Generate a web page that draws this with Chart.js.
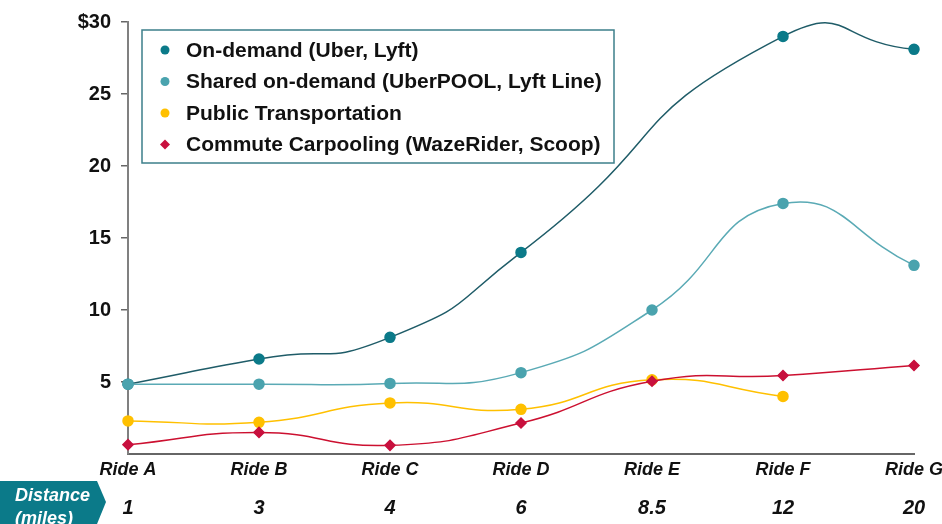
<!DOCTYPE html>
<html>
<head>
<meta charset="utf-8">
<script src="https://cdn.jsdelivr.net/npm/chart.js@4/dist/chart.umd.min.js"></script>
<style>
  html, body { margin: 0; padding: 0; background: #fff; }
  #wrap { width: 942px; height: 524px; position: relative; }
</style>
</head>
<body>
<div id="wrap"><canvas id="lineChart" width="942" height="524"></canvas></div>
<script>
const rides = ["Ride A", "Ride B", "Ride C", "Ride D", "Ride E", "Ride F", "Ride G"];
const distances = ["1", "3", "4", "6", "8.5", "12", "20"];
const seriesNames = [
  "On-demand (Uber, Lyft)",
  "Shared on-demand (UberPOOL, Lyft Line)",
  "Public Transportation",
  "Commute Carpooling (WazeRider, Scoop)"
];
const onDemand = [4.85, 6.6, 8.1, 14.0, null, 29.0, 28.1];
const sharedOnDemand = [4.85, 4.85, 4.9, 5.65, 10.0, 17.4, 13.1];
const publicTransit = [2.3, 2.2, 3.55, 3.1, 5.15, 4.0, null];
const carpooling = [0.65, 1.5, 0.6, 2.15, 5.05, 5.45, 6.15];
const yTicks = [5, 10, 15, 20, 25, 30];

const lineColors = ["#1f5c68", "#5aaab5", "#ffc000", "#cc1030"];
const markColors = ["#0b7a89", "#4aa3ae", "#ffc000", "#c8103e"];
const markStyles = ["circle", "circle", "circle", "rectRot"];
const tensions = [0.6, 0.5, 0.5, 0.5];

const allSeries = [onDemand, sharedOnDemand, publicTransit, carpooling];
const FONT = "'Liberation Sans', Arial, sans-serif";

// legend box, distance row and the "Distance (miles)" tag
const extras = {
  id: "extras",
  afterDraw(chart) {
    const ctx = chart.ctx;
    const xs = chart.scales.x;
    ctx.save();
    // legend
    ctx.strokeStyle = "#3d7f8a";
    ctx.lineWidth = 1.5;
    ctx.fillStyle = "#fff";
    ctx.fillRect(142, 30, 472, 133);
    ctx.strokeRect(142, 30, 472, 133);
    ctx.font = "bold 21px " + FONT;
    ctx.textBaseline = "middle";
    seriesNames.forEach((name, i) => {
      const y = 50 + i * 31.5;
      ctx.fillStyle = markColors[i];
      ctx.beginPath();
      if (markStyles[i] === "rectRot") {
        ctx.moveTo(165, y - 5); ctx.lineTo(170, y); ctx.lineTo(165, y + 5); ctx.lineTo(160, y);
      } else {
        ctx.arc(165, y, 4.5, 0, Math.PI * 2);
      }
      ctx.closePath();
      ctx.fill();
      ctx.fillStyle = "#111";
      ctx.fillText(name, 186, y + 1);
    });
    // distance row
    ctx.font = "italic bold 20px " + FONT;
    ctx.textAlign = "center";
    distances.forEach((d, i) => {
      ctx.fillText(d, xs.getPixelForValue(i), 508);
    });
    // distance tag
    ctx.fillStyle = "#0b7a89";
    ctx.beginPath();
    ctx.moveTo(0, 481); ctx.lineTo(97, 481); ctx.lineTo(106, 502);
    ctx.lineTo(97, 524); ctx.lineTo(0, 524);
    ctx.closePath();
    ctx.fill();
    ctx.fillStyle = "#fff";
    ctx.font = "italic bold 18px " + FONT;
    ctx.textAlign = "left";
    ctx.fillText("Distance", 15, 496);
    ctx.fillText("(miles)", 15, 519);
    ctx.restore();
  }
};

const datasets = allSeries.map((vals, i) => ({
  label: seriesNames[i],
  data: vals,
  borderColor: lineColors[i],
  backgroundColor: markColors[i],
  pointBackgroundColor: markColors[i],
  pointBorderColor: markColors[i],
  pointStyle: markStyles[i],
  pointRadius: 5,
  borderWidth: 1.5,
  tension: tensions[i],
  spanGaps: true,
  clip: false,
  order: 4 - i
}));

const config = {
  type: "line",
  data: {
    labels: rides,
    datasets: datasets
  },
  options: {
    responsive: false,
    animation: false,
    layout: { padding: { left: 0, right: 28, top: 21, bottom: 0 } },
    elements: { line: { capBezierPoints: false } },
    plugins: {
      legend: { display: false },
      tooltip: { enabled: false }
    },
    scales: {
      x: {
        grid: { display: false, drawTicks: false },
        border: { display: true, color: "#666", width: 2 },
        ticks: {
          color: "#111",
          padding: 5,
          maxRotation: 0,
          autoSkip: false,
          font: { family: FONT, size: 18, weight: "bold", style: "italic" }
        },
        afterFit(scale) {
          scale.height = 70;
          scale.paddingLeft = 0;
          scale.paddingRight = 0;
        }
      },
      y: {
        min: 0,
        max: 30,
        grid: { drawOnChartArea: false, drawTicks: true, tickLength: 7, color: "#666", lineWidth: 1.5 },
        border: { display: true, color: "#808080", width: 2 },
        afterBuildTicks(scale) { scale.ticks = yTicks.map(v => ({ value: v })); },
        ticks: {
          color: "#111",
          padding: 10,
          font: { family: FONT, size: 20, weight: "bold" },
          callback: v => (v === 30 ? "$30" : String(v))
        },
        afterFit(scale) { scale.width = 128; }
      }
    }
  },
  plugins: [extras]
};

new Chart(document.getElementById("lineChart"), config);
</script>
</body>
</html>
